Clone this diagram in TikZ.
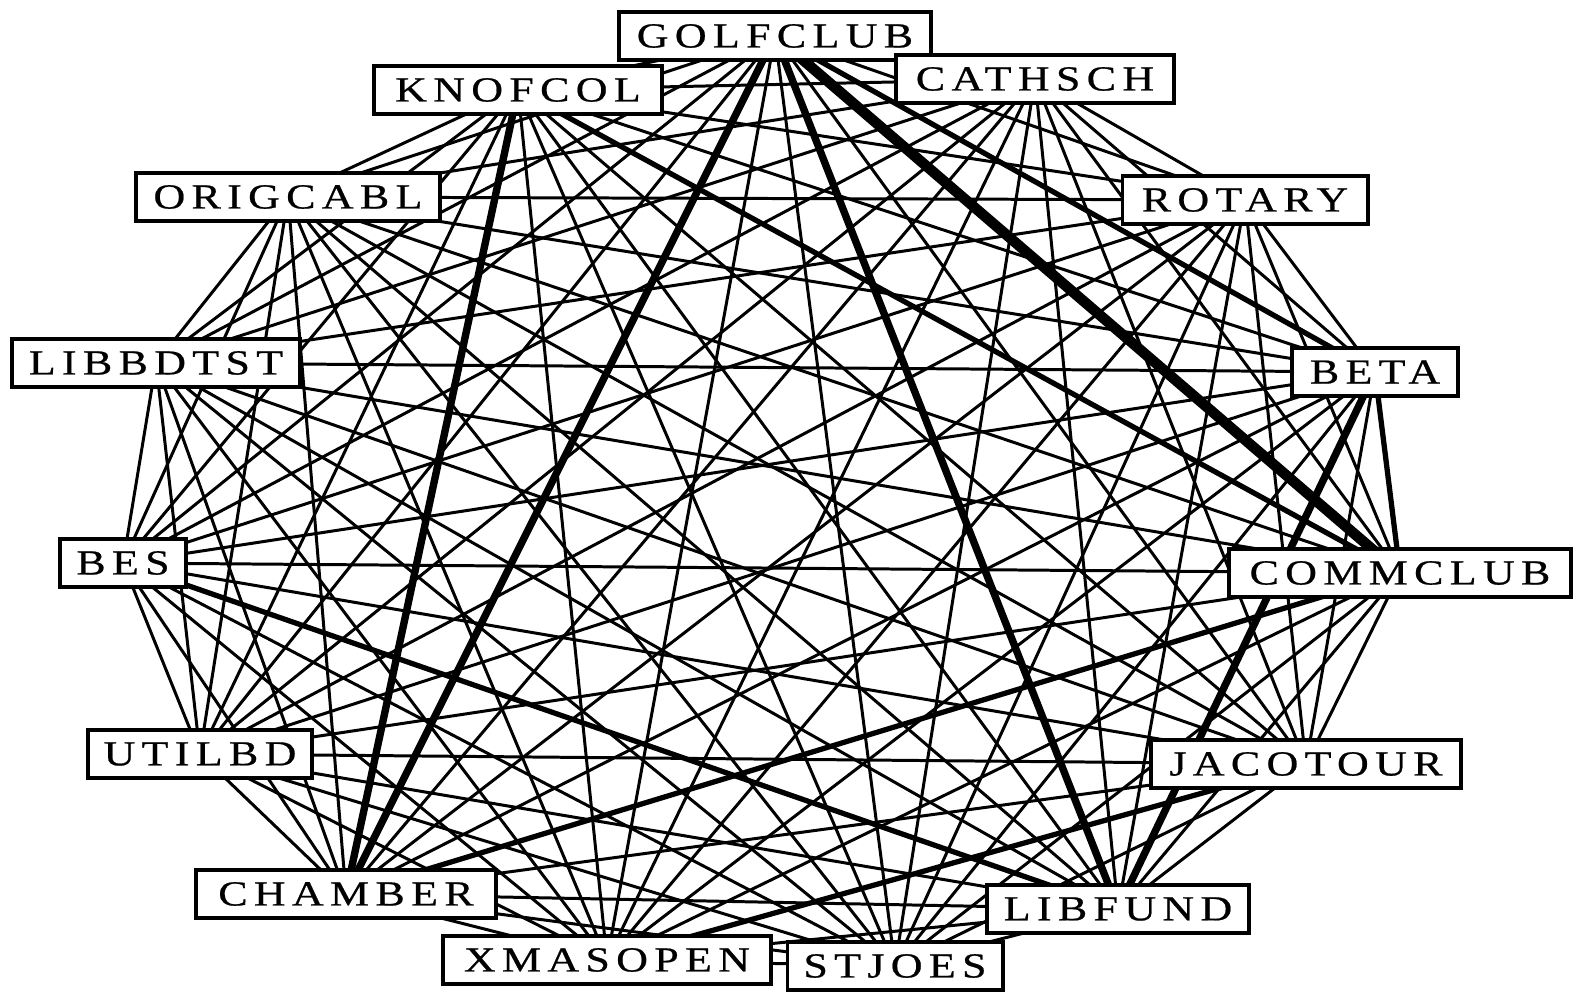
\documentclass[tikz,border=0pt]{standalone}
\usepackage{fontspec}
\setmainfont{Liberation Serif}
\usetikzlibrary{backgrounds}
\tikzset{
  club/.style={draw, line width=1.1pt, fill=white, minimum height=0.48cm, inner sep=0pt,
    font=\fontsize{10}{10}\selectfont\addfontfeature{LetterSpace=18,FakeStretch=1.25,FakeBold=0.6}},
  tie/.style={line width=0.85pt},
  strongtie/.style={line width=1.5pt},
  heavytie/.style={line width=2.1pt},
  maxtie/.style={line width=3pt}
}
\begin{document}
\begin{tikzpicture}[x=0.01cm,y=-0.01cm]
\useasboundingbox (0,0) rectangle (1579,992);
% actors
\node[club, minimum width=3.12cm] (golfclub) at (775,36) {GOLFCLUB};
\node[club, minimum width=2.87cm] (knofcol) at (518,90) {KNOFCOL};
\node[club, minimum width=2.77cm] (cathsch) at (1035,79) {CATHSCH};
\node[club, minimum width=3.04cm] (origcabl) at (288,197) {ORIGCABL};
\node[club, minimum width=2.45cm] (rotary) at (1245,200) {ROTARY};
\node[club, minimum width=2.87cm] (libbdtst) at (156,363) {LIBBDTST};
\node[club, minimum width=1.66cm] (beta) at (1375,372) {BETA};
\node[club, minimum width=1.26cm] (bes) at (123,563) {BES};
\node[club, minimum width=3.42cm] (commclub) at (1400,573) {COMMCLUB};
\node[club, minimum width=2.24cm] (utilbd) at (200,754) {UTILBD};
\node[club, minimum width=3.09cm] (jacotour) at (1306,764) {JACOTOUR};
\node[club, minimum width=3.00cm] (chamber) at (346,894) {CHAMBER};
\node[club, minimum width=2.62cm] (libfund) at (1118,909) {LIBFUND};
\node[club, minimum width=3.27cm] (xmasopen) at (607,960) {XMASOPEN};
\node[club, minimum width=2.15cm] (stjoes) at (895,966) {STJOES};
% ties
\begin{scope}[on background layer]
\draw[tie] (golfclub.center) -- (knofcol.center) (golfclub.center) -- (cathsch.center) (golfclub.center) -- (origcabl.center) (golfclub.center) -- (rotary.center) (golfclub.center) -- (libbdtst.center) (golfclub.center) -- (bes.center) (golfclub.center) -- (utilbd.center) (golfclub.center) -- (jacotour.center) (golfclub.center) -- (xmasopen.center) (golfclub.center) -- (stjoes.center);
\draw[tie] (knofcol.center) -- (cathsch.center) (knofcol.center) -- (origcabl.center) (knofcol.center) -- (rotary.center) (knofcol.center) -- (libbdtst.center) (knofcol.center) -- (beta.center) (knofcol.center) -- (bes.center) (knofcol.center) -- (utilbd.center) (knofcol.center) -- (jacotour.center) (knofcol.center) -- (libfund.center) (knofcol.center) -- (xmasopen.center) (knofcol.center) -- (stjoes.center);
\draw[tie] (cathsch.center) -- (origcabl.center) (cathsch.center) -- (rotary.center) (cathsch.center) -- (libbdtst.center) (cathsch.center) -- (beta.center) (cathsch.center) -- (bes.center) (cathsch.center) -- (commclub.center) (cathsch.center) -- (utilbd.center) (cathsch.center) -- (jacotour.center) (cathsch.center) -- (chamber.center) (cathsch.center) -- (libfund.center) (cathsch.center) -- (xmasopen.center) (cathsch.center) -- (stjoes.center);
\draw[tie] (origcabl.center) -- (rotary.center) (origcabl.center) -- (libbdtst.center) (origcabl.center) -- (beta.center) (origcabl.center) -- (bes.center) (origcabl.center) -- (commclub.center) (origcabl.center) -- (utilbd.center) (origcabl.center) -- (jacotour.center) (origcabl.center) -- (chamber.center) (origcabl.center) -- (libfund.center) (origcabl.center) -- (xmasopen.center) (origcabl.center) -- (stjoes.center);
\draw[tie] (rotary.center) -- (libbdtst.center) (rotary.center) -- (beta.center) (rotary.center) -- (bes.center) (rotary.center) -- (commclub.center) (rotary.center) -- (utilbd.center) (rotary.center) -- (jacotour.center) (rotary.center) -- (chamber.center) (rotary.center) -- (libfund.center) (rotary.center) -- (xmasopen.center) (rotary.center) -- (stjoes.center);
\draw[tie] (libbdtst.center) -- (beta.center) (libbdtst.center) -- (bes.center) (libbdtst.center) -- (commclub.center) (libbdtst.center) -- (utilbd.center) (libbdtst.center) -- (jacotour.center) (libbdtst.center) -- (chamber.center) (libbdtst.center) -- (libfund.center) (libbdtst.center) -- (xmasopen.center) (libbdtst.center) -- (stjoes.center);
\draw[tie] (beta.center) -- (bes.center) (beta.center) -- (utilbd.center) (beta.center) -- (jacotour.center) (beta.center) -- (chamber.center) (beta.center) -- (xmasopen.center) (beta.center) -- (stjoes.center);
\draw[tie] (bes.center) -- (commclub.center) (bes.center) -- (utilbd.center) (bes.center) -- (jacotour.center) (bes.center) -- (chamber.center) (bes.center) -- (xmasopen.center) (bes.center) -- (stjoes.center);
\draw[tie] (commclub.center) -- (utilbd.center) (commclub.center) -- (jacotour.center) (commclub.center) -- (libfund.center) (commclub.center) -- (xmasopen.center) (commclub.center) -- (stjoes.center);
\draw[tie] (utilbd.center) -- (jacotour.center) (utilbd.center) -- (chamber.center) (utilbd.center) -- (libfund.center) (utilbd.center) -- (xmasopen.center) (utilbd.center) -- (stjoes.center);
\draw[tie] (jacotour.center) -- (chamber.center) (jacotour.center) -- (libfund.center) (jacotour.center) -- (stjoes.center);
\draw[tie] (chamber.center) -- (libfund.center) (chamber.center) -- (xmasopen.center) (chamber.center) -- (stjoes.center);
\draw[tie] (libfund.center) -- (xmasopen.center) (libfund.center) -- (stjoes.center) (xmasopen.center) -- (stjoes.center);
\draw[strongtie] (golfclub.center) -- (beta.center);
\draw[strongtie] (knofcol.center) -- (commclub.center);
\draw[strongtie] (beta.center) -- (commclub.center);
\draw[strongtie] (commclub.center) -- (chamber.center);
\draw[strongtie] (bes.center) -- (libfund.center);
\draw[strongtie] (xmasopen.center) -- (jacotour.center);
\draw[heavytie] (golfclub.center) -- (chamber.center);
\draw[heavytie] (golfclub.center) -- (libfund.center);
\draw[heavytie] (knofcol.center) -- (chamber.center);
\draw[heavytie] (beta.center) -- (libfund.center);
\draw[maxtie] (golfclub.center) -- (commclub.center);
\end{scope}
\end{tikzpicture}
\end{document}
